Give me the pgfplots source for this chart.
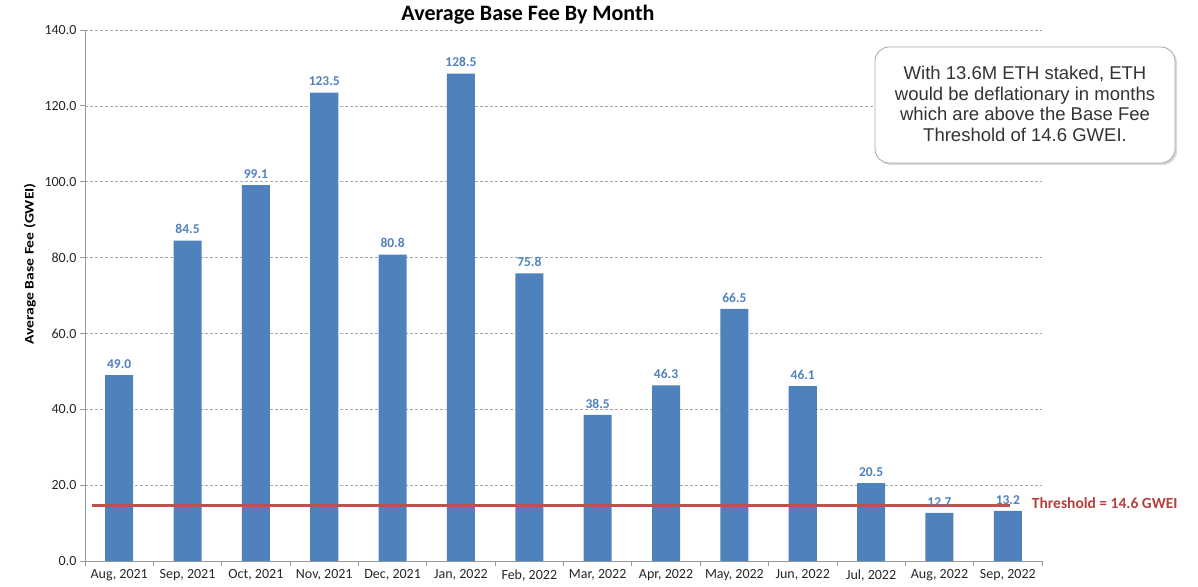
\documentclass[border=0pt]{standalone}
\usepackage{fontspec}
\setmainfont{Carlito}
\newfontfamily\arialf{Liberation Sans}
\usepackage{pgfplots}
\pgfplotsset{compat=1.18}
\usetikzlibrary{shadows}
\definecolor{barblue}{HTML}{4F81BD}
\definecolor{thred}{HTML}{C0504D}
\definecolor{thlab}{HTML}{B5403D}
\begin{document}
\begin{tikzpicture}[x=1pt,y=1pt]
\begin{axis}[at={(85pt,25pt)}, anchor=south west, scale only axis, width=957pt, height=531pt,
 xmin=-0.5, xmax=13.5, ymin=0, ymax=140,
 axis x line*=bottom, axis y line*=left,
 axis line style={draw=gray!80, line width=0.8pt},
 xtick={-0.5,0.5,...,13.5}, x tick label as interval,
 xticklabels={{Aug, 2021},{Sep, 2021},{Oct, 2021},{Nov, 2021},{Dec, 2021},{Jan, 2022},{Feb, 2022},{Mar, 2022},{Apr, 2022},{May, 2022},{Jun, 2022},{Jul, 2022},{Aug, 2022},{Sep, 2022}},
 ytick={0,20,...,140},
 tick align=outside, major tick length=5pt, tick style={draw=gray!80, line width=0.8pt},
 ymajorgrids, grid style={draw=gray!70, dash pattern=on 3pt off 2pt, line width=0.6pt},
 ticklabel style={font=\fontsize{14}{16}\selectfont, text=black!85},
 yticklabel style={/pgf/number format/.cd, fixed, zerofill, precision=1},
 /pgf/number format/assume math mode=true,
 clip=false,
]
\addplot[ybar, bar width=0.41, fill=barblue, draw=none, nodes near coords,
  nodes near coords style={font=\bfseries\fontsize{13.5}{15}\selectfont, text=barblue, yshift=3pt, /pgf/number format/.cd, fixed, zerofill, precision=1}]
 coordinates {(0,49.0) (1,84.5) (2,99.1) (3,123.5) (4,80.8) (5,128.5) (6,75.8) (7,38.5) (8,46.3) (9,66.5) (10,46.1) (11,20.5) (12,12.7) (13,13.2)};
\addplot[thred, line width=3pt, forget plot] coordinates {(-0.4,14.6) (13.03,14.6)};
\node[anchor=west, text=thlab, font=\bfseries\fontsize{15.5}{17}\selectfont] at (axis cs:13.3,15.2) {Threshold = 14.6 GWEI};
\end{axis}
\node[anchor=base, font=\bfseries\fontsize{22}{26}\selectfont] at (528,565) {Average Base Fee By Month};
\node[rotate=90, font=\bfseries\fontsize{13}{15}\selectfont] at (30,322) {\scalebox{1.2}[1]{Average Base Fee (GWEI)}};
\draw[rounded corners=14pt, draw=gray!70, fill=white, line width=0.8pt, drop shadow={opacity=0.3, shadow xshift=2pt, shadow yshift=-2pt}] (875,423) rectangle (1175,539);
\node[align=center, font=\arialf\fontsize{18.5}{20.5}\selectfont, text=black!80] at (1025,482) {With 13.6M ETH staked, ETH\\would be deflationary in months\\which are above the Base Fee\\Threshold of 14.6 GWEI.};
\pgfresetboundingbox
\path[use as bounding box] (0,0) rectangle (1198,586);
\end{tikzpicture}
\end{document}
